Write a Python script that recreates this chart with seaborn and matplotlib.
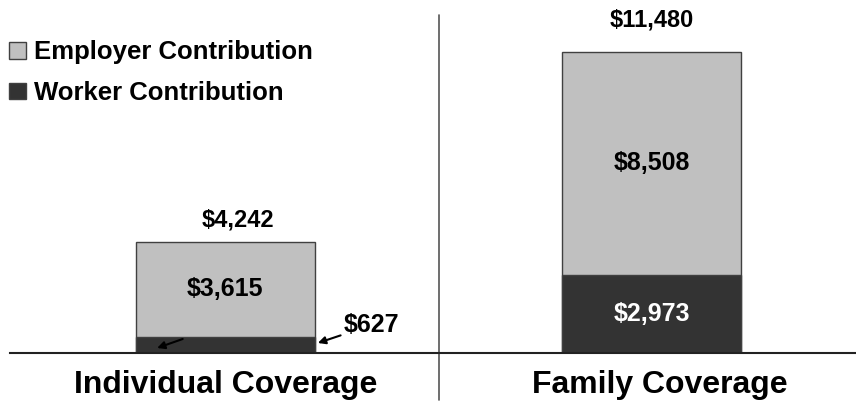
import matplotlib
matplotlib.use("Agg")
import matplotlib.pyplot as plt
from matplotlib.patches import Patch
import seaborn as sns
import pandas as pd

categories = ["Individual Coverage", "Family Coverage"]
worker = [627, 2973]
employer = [3615, 8508]
total = [4242, 11480]

employer_color = "#C0C0C0"
worker_color = "#333333"
edge = "#404040"

sns.set_style("white")
plt.rcParams["font.family"] = ["Liberation Sans", "DejaVu Sans"]
plt.rcParams["font.weight"] = "bold"
plt.rcParams["text.color"] = "black"

df = pd.DataFrame({"cat": categories, "worker": worker, "employer": employer, "total": total})

fig = plt.figure(figsize=(8.56, 4.19), dpi=100)
ax = fig.add_axes([10 / 856, 66 / 419, 846 / 856, 341 / 419])

sns.barplot(data=df, x="cat", y="total", color=employer_color, width=0.42,
            edgecolor=edge, linewidth=1, saturation=1, ax=ax)
sns.barplot(data=df, x="cat", y="worker", color=worker_color, width=0.42,
            edgecolor=edge, linewidth=1, saturation=1, ax=ax)

ax.set_xlim(-0.505, 1.479)
ax.set_ylim(0, 13000)
ax.set_xlabel("")
ax.set_ylabel("")
ax.set_yticks([])
ax.set_xticks([])
for s in ["left", "top", "right"]:
    ax.spines[s].set_visible(False)
ax.spines["bottom"].set_color("#222222")
ax.spines["bottom"].set_linewidth(1.5)

# tick marks at the left edge and the middle
ax.set_xticks([-0.505, 0.5], minor=True)
ax.tick_params(axis="x", which="minor", length=9, width=1.5, color="#222222", direction="out")

# divider
ax.axvline(0.5, ymin=-0.138, ymax=0.99, color="#555555", lw=1.2, clip_on=False)

# category labels
label_x = [0.0, 1.02]
for xi, name in zip(label_x, categories):
    ax.text(xi, -0.094, name, transform=ax.get_xaxis_transform(), ha="center", va="center",
            fontsize=23, fontweight="bold")

# totals above bars
total_offsets = [(9, 16), (0, 23)]
for i, v in enumerate(total):
    ax.annotate(f"${v:,}", (i, v), xytext=total_offsets[i], textcoords="offset points",
                ha="center", va="center", fontsize=17, fontweight="bold")

# employer labels in the middle of the segment
for i, (w, e) in enumerate(zip(worker, employer)):
    ax.text(i, w + e / 2, f"${e:,}", ha="center", va="center", fontsize=18, fontweight="bold")

# family worker label inside bar
ax.text(1, worker[1] / 2, f"${worker[1]:,}", ha="center", va="center",
        fontsize=18, fontweight="bold", color="white")

# individual worker label with arrows
ax.annotate(f"${worker[0]:,}", xy=(0.217, 382), xytext=(0.278, 1068),
            ha="left", va="center", fontsize=18, fontweight="bold",
            arrowprops=dict(arrowstyle="-|>", color="black", lw=1.5, mutation_scale=11,
                            shrinkA=0, shrinkB=0))
ax.annotate("", xy=(-0.16, 191), xytext=(-0.1, 534),
            arrowprops=dict(arrowstyle="-|>", color="black", lw=1.5, mutation_scale=11,
                            shrinkA=0, shrinkB=0))

handles = [Patch(facecolor=employer_color, edgecolor=edge, label="Employer Contribution"),
           Patch(facecolor=worker_color, edgecolor=edge, label="Worker Contribution")]
fig.legend(handles=handles, loc="upper left", bbox_to_anchor=(0.011, 0.904), frameon=False,
           borderpad=0, borderaxespad=0, handlelength=0.66, handleheight=0.62,
           handletextpad=0.3, labelspacing=0.65, prop={"size": 18.5, "weight": "bold"})

fig.savefig("out.png", dpi=100)
